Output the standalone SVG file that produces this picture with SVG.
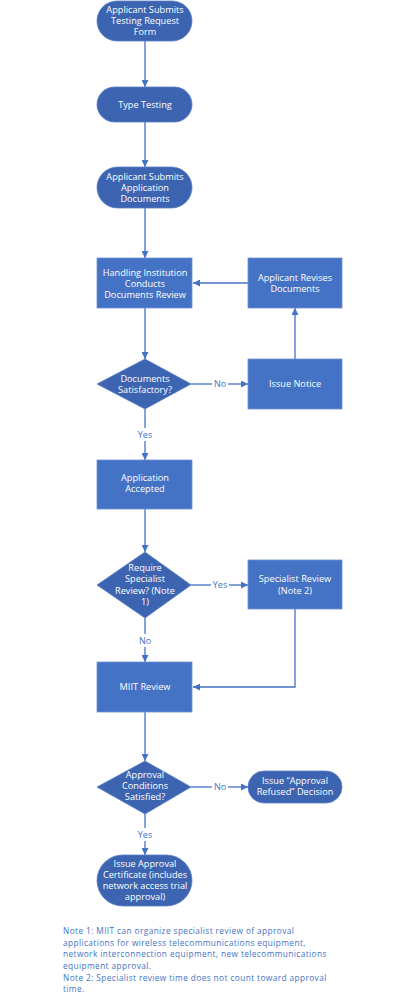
<svg xmlns="http://www.w3.org/2000/svg" width="400" height="1000" viewBox="0 0 400 1000">
<style>
.t{font-family:"Open Sans","Liberation Sans",sans-serif;font-size:9.2px;fill:#ffffff;text-anchor:middle}
.rect{fill:#4472C4;stroke:#7092D2;stroke-width:0.8}
.term{fill:#3C64B1;stroke:#5A7FC6;stroke-width:0.8}
.dec{fill:#3C64B1;stroke:#5A7FC6;stroke-width:0.8}
.c{fill:none;stroke:#4472C4;stroke-width:1.3}
.lbl{font-family:"Open Sans","Liberation Sans",sans-serif;font-size:9px;fill:#4472C4;text-anchor:middle}
.note{font-family:"Open Sans","Liberation Sans",sans-serif;font-size:8.3px;letter-spacing:0.4px;fill:#4472C4}
</style>
<defs>
<marker id="ah" viewBox="0 0 10 10" refX="10" refY="5" markerWidth="7" markerHeight="7" markerUnits="userSpaceOnUse" orient="auto">
<path d="M0,0 L10,5 L0,10 z" fill="#4472C4"/>
</marker>
</defs>
<g id="connectors">
<line class="c" x1="145" y1="41" x2="145" y2="87" marker-end="url(#ah)"/>
<line class="c" x1="145" y1="122" x2="145" y2="167" marker-end="url(#ah)"/>
<line class="c" x1="145" y1="208" x2="145" y2="258" marker-end="url(#ah)"/>
<line class="c" x1="248" y1="283" x2="193" y2="283" marker-end="url(#ah)"/>
<line class="c" x1="145" y1="308" x2="145" y2="359" marker-end="url(#ah)"/>
<line class="c" x1="191" y1="384" x2="212" y2="384"/>
<line class="c" x1="228" y1="384" x2="248" y2="384" marker-end="url(#ah)"/>
<text class="lbl" x="220" y="387">No</text>
<line class="c" x1="295" y1="359" x2="295" y2="308" marker-end="url(#ah)"/>
<line class="c" x1="145" y1="409" x2="145" y2="428"/>
<line class="c" x1="145" y1="441" x2="145" y2="460" marker-end="url(#ah)"/>
<text class="lbl" x="145" y="438">Yes</text>
<line class="c" x1="145" y1="509" x2="145" y2="552" marker-end="url(#ah)"/>
<line class="c" x1="191" y1="585" x2="211" y2="585"/>
<line class="c" x1="229" y1="585" x2="248" y2="585" marker-end="url(#ah)"/>
<text class="lbl" x="220" y="588">Yes</text>
<line class="c" x1="145" y1="618" x2="145" y2="634"/>
<line class="c" x1="145" y1="647" x2="145" y2="662" marker-end="url(#ah)"/>
<text class="lbl" x="145" y="644">No</text>
<polyline class="c" points="295,609 295,687 193,687" marker-end="url(#ah)"/>
<line class="c" x1="145" y1="712" x2="145" y2="761" marker-end="url(#ah)"/>
<line class="c" x1="191" y1="787" x2="212" y2="787"/>
<line class="c" x1="228" y1="787" x2="248" y2="787" marker-end="url(#ah)"/>
<text class="lbl" x="220" y="790">No</text>
<line class="c" x1="145" y1="814" x2="145" y2="828"/>
<line class="c" x1="145" y1="841" x2="145" y2="855" marker-end="url(#ah)"/>
<text class="lbl" x="145" y="838">Yes</text>
</g>
<g id="n1">
<rect class="term" x="97" y="1" width="95" height="40" rx="20"/>
<text class="t" x="145" y="13">Applicant Submits</text>
<text class="t" x="145" y="24">Testing Request</text>
<text class="t" x="145" y="35">Form</text>
</g>
<g id="n2">
<rect class="term" x="97" y="87" width="95" height="35" rx="17.5"/>
<text class="t" x="145" y="108">Type Testing</text>
</g>
<g id="n3">
<rect class="term" x="97" y="167" width="95" height="41" rx="20.5"/>
<text class="t" x="145" y="180">Applicant Submits</text>
<text class="t" x="145" y="191">Application</text>
<text class="t" x="145" y="202">Documents</text>
</g>
<g id="n4">
<rect class="rect" x="97" y="258" width="95" height="50"/>
<text class="t" x="145" y="276">Handling Institution</text>
<text class="t" x="145" y="287">Conducts</text>
<text class="t" x="145" y="298">Documents Review</text>
</g>
<g id="n5">
<rect class="rect" x="248" y="258" width="94" height="50"/>
<text class="t" x="295" y="281">Applicant Revises</text>
<text class="t" x="295" y="292">Documents</text>
</g>
<g id="n6">
<polygon class="dec" points="145,359 191,384 145,409 97,384"/>
<text class="t" x="145" y="382">Documents</text>
<text class="t" x="145" y="393">Satisfactory?</text>
</g>
<g id="n7">
<rect class="rect" x="248" y="359" width="94" height="50"/>
<text class="t" x="295" y="387">Issue Notice</text>
</g>
<g id="n8">
<rect class="rect" x="97" y="460" width="95" height="49"/>
<text class="t" x="145" y="481">Application</text>
<text class="t" x="145" y="492">Accepted</text>
</g>
<g id="n9">
<polygon class="dec" points="145,552 191,585 145,618 97,585"/>
<text class="t" x="145" y="571">Require</text>
<text class="t" x="145" y="582">Specialist</text>
<text class="t" x="145" y="594">Review? (Note</text>
<text class="t" x="145" y="605">1)</text>
</g>
<g id="n10">
<rect class="rect" x="248" y="560" width="94" height="49"/>
<text class="t" x="295" y="582">Specialist Review</text>
<text class="t" x="295" y="594">(Note 2)</text>
</g>
<g id="n11">
<rect class="rect" x="97" y="662" width="95" height="50"/>
<text class="t" x="145" y="690">MIIT Review</text>
</g>
<g id="n12">
<polygon class="dec" points="145,761 191,787 145,814 97,787"/>
<text class="t" x="145" y="778">Approval</text>
<text class="t" x="145" y="789">Conditions</text>
<text class="t" x="145" y="800">Satisfied?</text>
</g>
<g id="n13">
<rect class="term" x="248" y="771" width="94" height="32" rx="16"/>
<text class="t" x="295" y="784">Issue “Approval</text>
<text class="t" x="295" y="795">Refused” Decision</text>
</g>
<g id="n14">
<rect class="term" x="97" y="855" width="95" height="51" rx="25.5"/>
<text class="t" x="145" y="867">Issue Approval</text>
<text class="t" x="145" y="878">Certificate (includes</text>
<text class="t" x="145" y="889">network access trial</text>
<text class="t" x="145" y="900">approval)</text>
</g>
<g id="notes">
<text class="note" x="63" y="934">Note 1: MIIT can organize specialist review of approval</text>
<text class="note" x="63" y="945.5">applications for wireless telecommunications equipment,</text>
<text class="note" x="63" y="957">network interconnection equipment, new telecommunications</text>
<text class="note" x="63" y="968.5">equipment approval.</text>
<text class="note" x="63" y="980.5">Note 2: Specialist review time does not count toward approval</text>
<text class="note" x="63" y="992">time.</text>
</g>
</svg>
